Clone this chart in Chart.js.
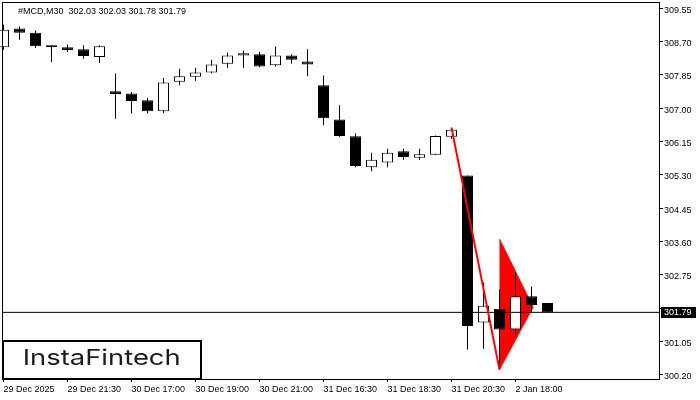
<!DOCTYPE html>
<html>
<head>
<meta charset="utf-8">
<script src="https://cdn.jsdelivr.net/npm/chart.js@4"></script>
<style>
html,body{margin:0;padding:0;background:#fff;}
#wrap{width:700px;height:400px;}
</style>
</head>
<body>
<div id="wrap"><canvas id="c" width="700" height="400"></canvas></div>
<script>
// ---- data ----
const symbol = '#MCD,M30';
const opens  = [308.55,309.03,308.92,308.60,308.55,308.50,308.30,307.43,307.37,307.20,306.92,307.67,307.80,307.91,308.13,308.34,308.37,308.09,308.34,308.19,307.58,306.71,306.28,305.49,305.61,305.90,305.73,305.81,306.27,305.28,301.53,301.88,301.35,302.20,302.03];
const highs  = [309.13,309.08,308.98,308.60,308.62,308.60,308.60,307.88,307.41,307.26,307.77,308.00,308.03,308.23,308.41,308.47,308.43,308.57,308.37,308.50,307.83,307.07,306.35,305.86,305.96,305.96,305.96,306.30,306.50,305.28,302.55,302.37,302.82,302.45,302.03];
const lows   = [308.49,308.74,308.53,308.17,308.43,308.26,308.15,306.73,306.86,306.86,306.87,307.58,307.69,307.89,308.02,308.02,308.04,308.06,308.13,307.81,306.56,306.26,305.49,305.39,305.49,305.68,305.68,305.81,306.22,300.84,300.86,300.33,301.20,301.80,301.78];
const closes = [309.00,308.92,308.58,308.56,308.48,308.33,308.58,307.36,307.18,306.92,307.65,307.81,307.91,308.11,308.34,308.40,308.06,308.34,308.23,308.11,306.74,306.29,305.52,305.68,305.86,305.75,305.82,306.29,306.45,301.44,301.96,301.35,302.20,301.98,301.79];

const xTickPos    = [0, 4, 8, 12, 16, 20, 24, 28, 32];
const xTickLabels = ['29 Dec 2025','29 Dec 21:30','30 Dec 17:00','30 Dec 19:00','30 Dec 21:00','31 Dec 16:30','31 Dec 18:30','31 Dec 20:30','2 Jan 18:00'];
const yTicks = [300.20,301.05,301.90,302.75,303.60,304.45,305.30,306.15,307.00,307.85,308.70,309.55];

// bearish pennant pattern
const poleStart = 28, poleEnd = 31;          // candle indices
const pennantX  = [31, 33.1, 31];
const pennantY  = [303.66, 301.92, 300.33];

const yMin = 300.09, yMax = 309.68;
const xMin = -0.03125, xMax = 40.96875;

// ---- derived ----
const last = closes.length - 1;
const currentPrice = closes[last];
const titleText = symbol + '  ' + [opens[last], highs[last], lows[last], closes[last]].map(v => v.toFixed(2)).join(' ');
const idx = opens.map((_, i) => i);
const bodies = idx.map(i => ({x: i, y: [opens[i], closes[i]]}));
const wicks  = idx.map(i => ({x: i, y: [lows[i], highs[i]]}));
const bodyColors = idx.map(i => closes[i] >= opens[i] ? '#ffffff' : '#000000');
const pole = [{x: poleStart, y: highs[poleStart]}, {x: poleEnd, y: lows[poleEnd]}];
const pennant = pennantX.map((x, i) => ({x, y: pennantY[i]}));
const priceLine = [{x: xMin, y: currentPrice}, {x: xMax, y: currentPrice}];

const FONT = '"Liberation Sans", Arial, sans-serif';

const overlay = {
  id: 'overlay',
  afterDraw(chart) {
    const {ctx, chartArea: a, scales: {y}} = chart;
    ctx.save();
    // frame
    ctx.strokeStyle = '#000';
    ctx.lineWidth = 1;
    ctx.strokeRect(a.left - 0.5, a.top - 0.5, a.right - a.left + 1, a.bottom - a.top + 1);
    // title
    ctx.fillStyle = '#000';
    ctx.font = '9px ' + FONT;
    ctx.textBaseline = 'alphabetic';
    ctx.textAlign = 'left';
    ctx.fillText(titleText, 18, 14);
    // current price label
    const py = y.getPixelForValue(currentPrice);
    ctx.fillStyle = '#000';
    ctx.fillRect(a.right + 2, Math.round(py) - 5, 35, 11);
    ctx.fillStyle = '#fff';
    ctx.textBaseline = 'middle';
    ctx.fillText(currentPrice.toFixed(2), a.right + 5, Math.round(py) + 0.5);
    // logo
    ctx.fillStyle = '#fff';
    ctx.fillRect(3, 341, 198, 38);
    ctx.lineWidth = 2;
    ctx.strokeStyle = '#000';
    ctx.strokeRect(3, 341, 198, 38);
    ctx.font = '400 22px Inter, "Noto Sans", sans-serif';
    ctx.textBaseline = 'alphabetic';
    const w = ctx.measureText('InstaFintech').width;
    ctx.translate(22.7, 365);
    ctx.scale(158 / w, 1);
    ctx.fillStyle = '#1c1c1c';
    ctx.fillText('InstaFintech', 0, 0);
    ctx.restore();
  }
};

new Chart(document.getElementById('c'), {
  type: 'bar',
  data: {
    datasets: [
      {type: 'line', data: pole, borderColor: '#ff0000', borderWidth: 2, pointRadius: 0, fill: false, tension: 0, order: 0},
      {type: 'line', data: priceLine, borderColor: '#000000', borderWidth: 1, pointRadius: 0, fill: false, order: 0},
      {type: 'bar', data: bodies, backgroundColor: bodyColors, borderColor: '#000000', borderWidth: 1,
       borderSkipped: false, barThickness: 11, grouped: false, inflateAmount: 0, clip: false, order: 1},
      {type: 'bar', data: wicks, backgroundColor: '#000000', borderWidth: 0,
       barThickness: 1, grouped: false, inflateAmount: 0, clip: false, order: 2},
      {type: 'line', data: pennant, borderColor: '#ff0000', backgroundColor: '#ff0000', borderWidth: 1,
       pointRadius: 0, fill: 'shape', tension: 0, order: 3}
    ]
  },
  options: {
    responsive: false,
    animation: false,
    devicePixelRatio: 1,
    layout: {padding: {left: 3, top: 3, right: 0, bottom: 0}, autoPadding: false},
    plugins: {legend: {display: false}, tooltip: {enabled: false}},
    scales: {
      x: {
        type: 'linear', min: xMin, max: xMax, offset: false, position: 'bottom',
        grid: {display: true, drawOnChartArea: false, drawTicks: true, tickLength: 3, color: '#000', offset: false},
        border: {display: false},
        ticks: {align: 'start', padding: 2, color: '#000', font: {family: FONT, size: 9},
                maxRotation: 0, minRotation: 0, autoSkip: false,
                callback: (v, i) => xTickLabels[i]},
        afterBuildTicks: s => { s.ticks = xTickPos.map(v => ({value: v})); },
        afterFit: s => { s.height = 21; s.paddingLeft = 0; s.paddingRight = 0; }
      },
      y: {
        type: 'linear', position: 'right', min: yMin, max: yMax, beginAtZero: false,
        grid: {display: true, drawOnChartArea: false, drawTicks: true, tickLength: 4, color: '#000'},
        border: {display: false},
        ticks: {padding: 1, labelOffset: 2, color: '#000', font: {family: FONT, size: 9}, autoSkip: false,
                callback: v => Number(v).toFixed(2)},
        afterBuildTicks: s => { s.ticks = yTicks.map(v => ({value: v})); },
        afterFit: s => { s.width = 41; s.paddingTop = 0; s.paddingBottom = 0; }
      }
    }
  },
  plugins: [overlay]
});
</script>
</body>
</html>
